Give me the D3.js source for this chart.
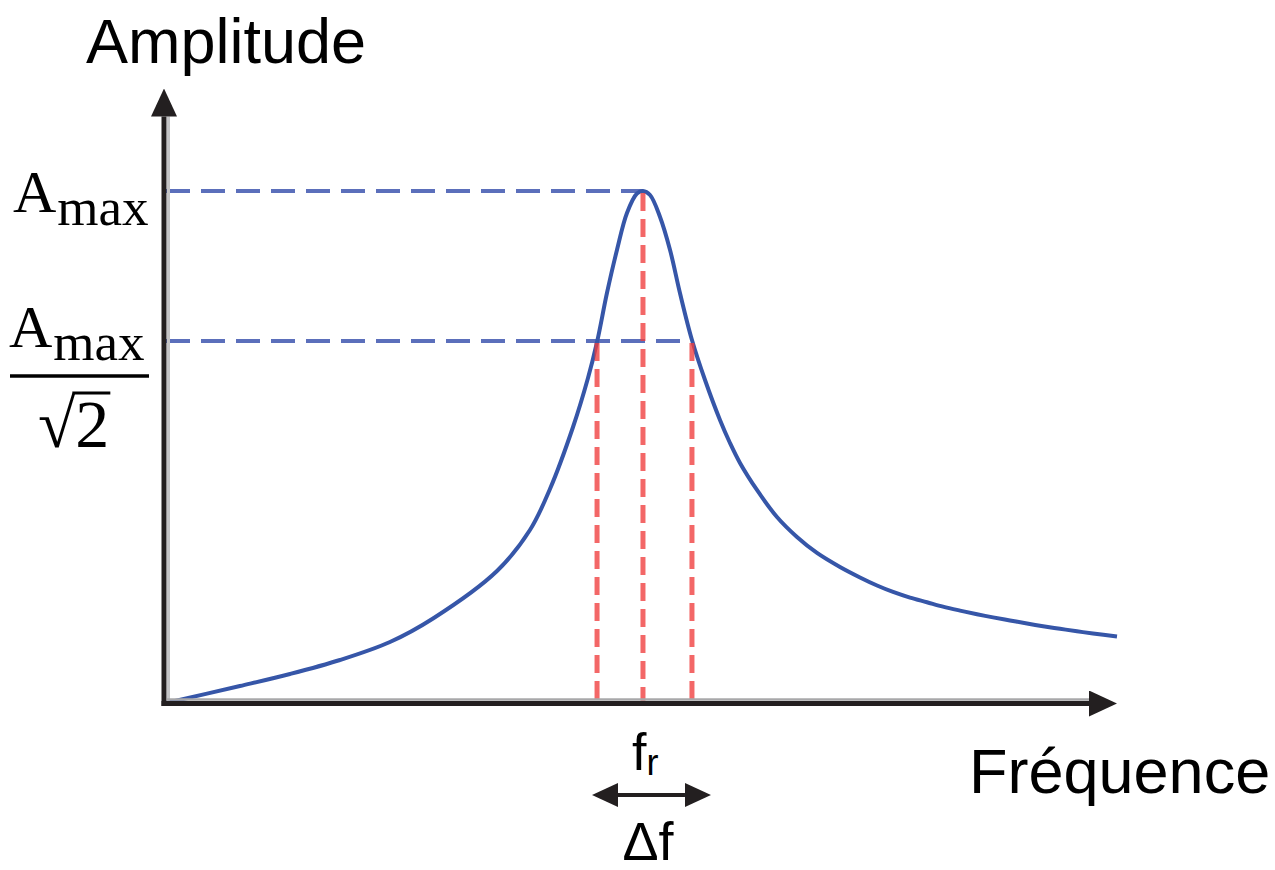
<!DOCTYPE html>
<html>
<head>
<meta charset="utf-8">
<script src="https://cdn.jsdelivr.net/npm/d3@7"></script>
<style>
  body { margin: 0; background: #fff; }
  .sans { font-family: "Liberation Sans", Arial, sans-serif; fill: #000; }
  .serif { font-family: "Liberation Serif", "DejaVu Serif", serif; fill: #000; }
</style>
</head>
<body>
<script>
// resonance curve, values
var freq = [0, 79.7, 132.2, 184.7, 237.1, 282.3, 349.4, 384.0, 405.0, 429.2, 444.9,
            454.4, 464.8, 475.3, 485.8, 496.3, 502.6, 510.0, 520.5, 531.0, 541.4, 554.0, 567.7,
            583.4, 593.9, 604.4, 622.2, 643.2, 664.2, 685.2, 709.3, 730.3, 748.2, 765.0, 782.8,
            800.6, 817.4, 835.3, 853.1, 869.9, 887.7, 905.6, 922.4, 940.2, 958.0, 974.8, 1000];
var amp  = [0, 0.0341, 0.0576, 0.0849, 0.1200, 0.1659, 0.2585, 0.3385, 0.4185, 0.5395, 0.6351,
            0.7054, 0.8010, 0.8849, 0.9571, 0.9951, 1.0, 0.9922, 0.9493, 0.8849, 0.8010, 0.7093, 0.6312,
            0.5532, 0.5083, 0.4693, 0.4166, 0.3639, 0.3249, 0.2937, 0.2663, 0.2459, 0.2302, 0.2176, 0.2066,
            0.1976, 0.1890, 0.1813, 0.1742, 0.1680, 0.1620, 0.1561, 0.1508, 0.1458, 0.1409, 0.1366, 0.1307];

var fr = 502.6;             // resonance
var f1 = 454.4, f2 = 554.0; // half power points
var aMax = 1, aHalf = 1 / Math.SQRT2;

var xLabel = "Fréquence";
var yLabel = "Amplitude";

var width = 1275, height = 870;

var xScale = d3.scaleLinear().domain([0, 1000]).range([164, 1117]);
var yScale = d3.scaleLinear().domain([0, 1.2]).range([703.5, 88.5]);

var svg = d3.select("body").append("svg")
    .attr("width", width)
    .attr("height", height);

var axisColor = "#231f20";
var arrowLen = 28;

// blue guides
svg.append("line")
    .attr("x1", xScale(0) + 2).attr("x2", xScale(fr))
    .attr("y1", yScale(aMax)).attr("y2", yScale(aMax))
    .attr("stroke", "#5b6fbb").attr("stroke-width", 4)
    .attr("stroke-dasharray", "24,11");

svg.append("line")
    .attr("x1", xScale(0) + 2).attr("x2", xScale(f2))
    .attr("y1", yScale(aHalf)).attr("y2", yScale(aHalf))
    .attr("stroke", "#5b6fbb").attr("stroke-width", 4)
    .attr("stroke-dasharray", "24,11");

// the curve
var line = d3.line()
    .x(function(d) { return xScale(d[0]); })
    .y(function(d) { return yScale(d[1]); })
    .curve(d3.curveCatmullRom.alpha(0.5));

svg.append("path")
    .datum(d3.zip(freq, amp))
    .attr("fill", "none")
    .attr("stroke", "#3656a8")
    .attr("stroke-width", 4)
    .attr("d", line);

// red verticals
var reds = [[f1, aHalf, 0], [fr, aMax, -0.012], [f2, aHalf, 0]];
svg.selectAll(".red")
    .data(reds)
    .enter().append("line")
    .attr("class", "red")
    .attr("x1", function(d) { return xScale(d[0]); })
    .attr("x2", function(d) { return xScale(d[0]); })
    .attr("y1", function(d) { return yScale(d[1]) + 2; })
    .attr("y2", function(d) { return yScale(d[2]); })
    .attr("stroke", "#f03c3c").attr("stroke-opacity", 0.78)
    .attr("stroke-width", 5)
    .attr("stroke-dasharray", "18,8");

// axes
var defs = svg.append("defs");
defs.append("marker")
    .attr("id", "head")
    .attr("markerUnits", "userSpaceOnUse")
    .attr("viewBox", "0 -13 28 26")
    .attr("markerWidth", 28).attr("markerHeight", 26)
    .attr("refX", 0).attr("refY", 0)
    .attr("orient", "auto")
    .append("path").attr("d", "M0,-13L28,0L0,13Z").attr("fill", axisColor);

defs.append("marker")
    .attr("id", "small")
    .attr("markerUnits", "userSpaceOnUse")
    .attr("viewBox", "0 -12 26 24")
    .attr("markerWidth", 26).attr("markerHeight", 24)
    .attr("refX", 0).attr("refY", 0)
    .attr("orient", "auto-start-reverse")
    .append("path").attr("d", "M0,-12L26,0L0,12Z").attr("fill", axisColor);

// light shadow lines next to the axes
svg.append("line")
    .attr("x1", xScale(0) + 4.5).attr("x2", xScale(0) + 4.5)
    .attr("y1", yScale(0) - 3).attr("y2", yScale(1.2) + arrowLen)
    .attr("stroke", "#c4c4c6").attr("stroke-width", 3);
svg.append("line")
    .attr("x1", xScale(0) + 3).attr("x2", xScale(1000) - arrowLen)
    .attr("y1", yScale(0) - 4).attr("y2", yScale(0) - 4)
    .attr("stroke", "#a8a8aa").attr("stroke-width", 2.5);

svg.append("line")
    .attr("x1", xScale(0)).attr("x2", xScale(0))
    .attr("y1", yScale(0) + 2.5).attr("y2", yScale(1.2) + arrowLen)
    .attr("stroke", axisColor).attr("stroke-width", 5)
    .attr("marker-end", "url(#head)");

svg.append("line")
    .attr("x1", xScale(0) - 2.5).attr("x2", xScale(1000) - arrowLen)
    .attr("y1", yScale(0)).attr("y2", yScale(0))
    .attr("stroke", axisColor).attr("stroke-width", 5)
    .attr("marker-end", "url(#head)");

// axis titles
svg.append("text").attr("class", "sans")
    .attr("x", 86).attr("y", 63)
    .attr("font-size", 63)
    .text(yLabel);

svg.append("text").attr("class", "sans")
    .attr("x", 969).attr("y", 793)
    .attr("font-size", 63)
    .text(xLabel);

// A_max label
function aLabel(x, y) {
    var t = svg.append("text").attr("class", "serif")
        .attr("x", x).attr("y", y)
        .attr("font-size", 60);
    t.append("tspan").text("A");
    t.append("tspan").attr("font-size", 53).attr("dy", 13).attr("dx", 1).text("max");
    return t;
}

aLabel(13, yScale(aMax) + 21);
aLabel(9, yScale(aHalf) + 6);

// fraction bar
svg.append("line")
    .attr("x1", 10).attr("x2", 149)
    .attr("y1", yScale(aHalf) + 35).attr("y2", yScale(aHalf) + 35)
    .attr("stroke", "#000").attr("stroke-width", 3.5);

var sq = svg.append("text").attr("class", "serif")
    .attr("x", 38).attr("y", yScale(aHalf) + 106)
    .attr("font-size", 68)
    .text("√2");

var node = sq.node();
var box = node.getBBox();
var rootW = node.getSubStringLength(0, 1);
svg.append("line")
    .attr("x1", box.x + rootW - 3).attr("x2", box.x + box.width + 1)
    .attr("y1", yScale(aHalf) + 52).attr("y2", yScale(aHalf) + 52)
    .attr("stroke", "#000").attr("stroke-width", 3);

// f_r and delta f under the axis
var frT = svg.append("text").attr("class", "sans")
    .attr("x", xScale(fr) - 11).attr("y", 770)
    .attr("font-size", 52);
frT.append("tspan").text("f");
frT.append("tspan").attr("font-size", 36).attr("dy", 5).text("r");

svg.append("line")
    .attr("x1", xScale(fr) - 25).attr("x2", xScale(fr) + 42)
    .attr("y1", 795).attr("y2", 795)
    .attr("stroke", axisColor).attr("stroke-width", 4)
    .attr("marker-start", "url(#small)")
    .attr("marker-end", "url(#small)");

svg.append("text").attr("class", "sans")
    .attr("x", xScale(fr) + 5).attr("y", 860)
    .attr("text-anchor", "middle")
    .attr("font-size", 54)
    .text("Δf");
</script>
</body>
</html>
